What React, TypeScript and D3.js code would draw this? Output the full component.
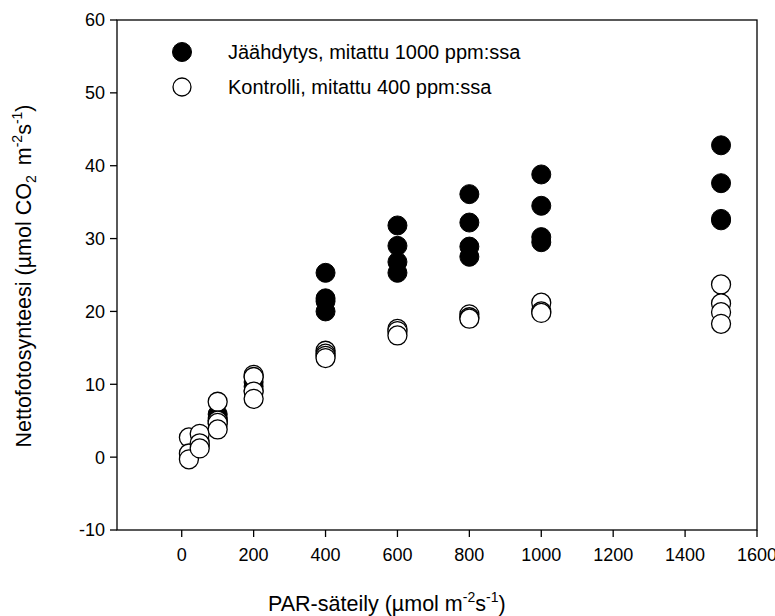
import React from "react";
import * as d3 from "d3";

// PAR levels (µmol m-2 s-1) and measured net photosynthesis at each level
const parLevels = [20, 50, 100, 200, 400, 600, 800, 1000, 1500];

const coolingValues = [
  [0.4, 0.0],
  [1.6, 2.2],
  [5.9, 5.4, 5.0, 4.6],
  [11.0, 10.3, 9.7, 9.1],
  [25.3, 21.8, 21.4, 20.0],
  [31.8, 29.0, 26.8, 25.3],
  [36.1, 32.2, 28.9, 27.5],
  [38.8, 34.5, 30.2, 29.5],
  [42.8, 37.6, 32.7, 32.5],
];

const controlValues = [
  [2.7, 0.5, -0.3],
  [3.2, 1.9, 1.2],
  [7.6, 5.0, 4.7, 3.8],
  [11.3, 11.0, 9.0, 8.0],
  [14.6, 14.2, 13.9, 13.6],
  [17.6, 17.3, 16.7],
  [19.6, 19.2, 19.0],
  [21.2, 20.0, 19.8],
  [23.7, 21.1, 19.9, 18.3],
];

const xTicks = [0, 200, 400, 600, 800, 1000, 1200, 1400, 1600];
const yTicks = [-10, 0, 10, 20, 30, 40, 50, 60];

const legendLabels = [
  "Jäähdytys, mitattu 1000 ppm:ssa",
  "Kontrolli, mitattu 400 ppm:ssa",
];

const font = "'Liberation Sans', Arial, Helvetica, sans-serif";

function flatten(values: number[][]) {
  return values.flatMap((group, i) => group.map((v) => ({ par: parLevels[i], value: v })));
}

export default function App() {
  const width = 775;
  const height = 616;
  const margin = { top: 20, right: 18, bottom: 86, left: 117 };

  const x = d3
    .scaleLinear()
    .domain([-180, 1600])
    .range([margin.left, width - margin.right]);

  const y = d3
    .scaleLinear()
    .domain([-10, 60])
    .range([height - margin.bottom, margin.top]);

  const cooling = flatten(coolingValues);
  const control = flatten(controlValues);
  const r = 9.5;

  const x0 = margin.left;
  const x1 = width - margin.right;
  const y0 = height - margin.bottom;
  const y1 = margin.top;

  return (
    <svg
      width={width}
      height={height}
      style={{ position: "absolute", left: 0, top: 0, background: "white" }}
      fontFamily={font}
    >
      {/* frame */}
      <rect x={x0} y={y1} width={x1 - x0} height={y0 - y1} fill="none" stroke="black" strokeWidth={1.3} />

      {/* x axis */}
      {xTicks.map((t) => (
        <g key={t}>
          <line x1={x(t)} x2={x(t)} y1={y0} y2={y0 + 7} stroke="black" strokeWidth={1.3} />
          <text x={x(t)} y={y0 + 31} textAnchor="middle" fontSize={18}>
            {t}
          </text>
        </g>
      ))}

      {/* y axis */}
      {yTicks.map((t) => (
        <g key={t}>
          <line x1={x0 - 7} x2={x0} y1={y(t)} y2={y(t)} stroke="black" strokeWidth={1.3} />
          <text x={x0 - 12} y={y(t)} dy="0.36em" textAnchor="end" fontSize={18}>
            {t}
          </text>
        </g>
      ))}

      {/* axis titles */}
      <text x={268} y={611} fontSize={21.5}>
        PAR-säteily (µmol m
        <tspan fontSize={14} dy={-9}>-2</tspan>
        <tspan dy={9}>s</tspan>
        <tspan fontSize={14} dy={-9}>-1</tspan>
        <tspan dy={9}>)</tspan>
      </text>
      <text transform="translate(31,276) rotate(-90)" textAnchor="middle" fontSize={21.5}>
        Nettofotosynteesi (µmol CO
        <tspan fontSize={14} dy={5}>2</tspan>
        <tspan dy={-5} dx={10}>m</tspan>
        <tspan fontSize={14} dy={-9}>-2</tspan>
        <tspan dy={9}>s</tspan>
        <tspan fontSize={14} dy={-9}>-1</tspan>
        <tspan dy={9}>)</tspan>
      </text>

      {/* points */}
      {cooling.map((d, i) => (
        <circle key={"c" + i} cx={x(d.par)} cy={y(d.value)} r={r} fill="black" stroke="black" strokeWidth={1} />
      ))}
      {control.map((d, i) => (
        <circle key={"k" + i} cx={x(d.par)} cy={y(d.value)} r={r} fill="white" stroke="black" strokeWidth={1.3} />
      ))}

      {/* legend */}
      <circle cx={182} cy={52} r={r} fill="black" stroke="black" strokeWidth={1} />
      <circle cx={182} cy={87} r={9} fill="white" stroke="black" strokeWidth={1.3} />
      <text x={228} y={59} fontSize={20}>{legendLabels[0]}</text>
      <text x={228} y={94} fontSize={20}>{legendLabels[1]}</text>
    </svg>
  );
}
